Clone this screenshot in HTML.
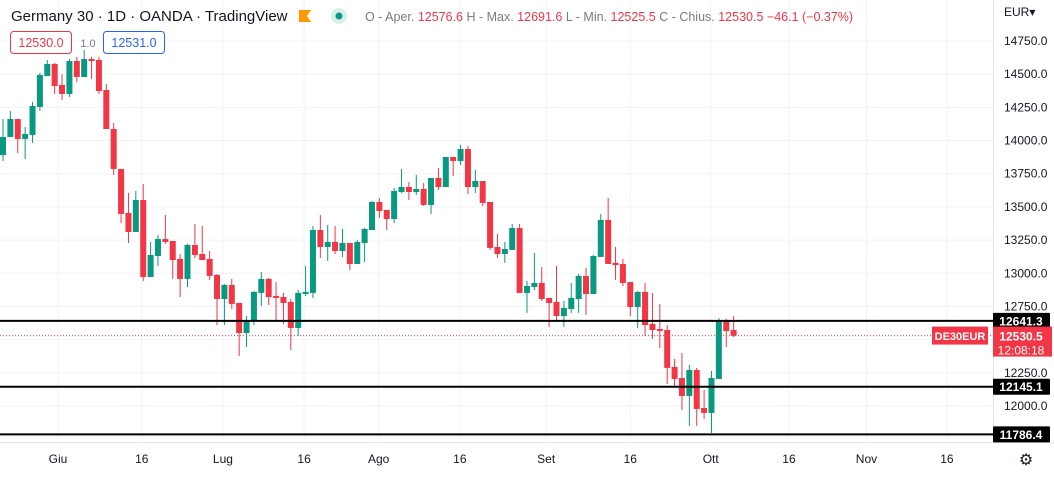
<!DOCTYPE html>
<html><head><meta charset="utf-8"><style>
body{margin:0;background:#fff;font-family:"Liberation Sans",sans-serif;}
#wrap{position:relative;width:1054px;height:495px;overflow:hidden;}
svg text{font-family:"Liberation Sans",sans-serif;}
</style></head><body>
<div id="wrap">
<svg id="chart" width="1054" height="495"></svg>
</div>
<script>
const opens=[13891,14027,14162,14012,14042,14253,14486,14577,14419,14351,14599,14479,14614,14607,14381,14087,13786,13454,13311,13552,12972,13130,13258,13243,13108,12957,13213,13145,13108,12987,12806,12912,12776,12550,12641,12852,12957,12829,12821,12784,12588,12844,12852,13326,13198,13236,13168,13228,13070,13228,13326,13537,13477,13409,13612,13650,13612,13635,13515,13718,13650,13876,13846,13936,13650,13695,13537,13198,13145,13176,13341,12852,12897,12927,12814,12784,12678,12731,12806,12980,12844,13123,13402,13078,13070,12934,12746,12859,12618,12580,12573,12294,12211,12076,12271,11985,11948,12204,12641,12573];
const highs=[14162,14223,14162,14102,14290,14509,14607,14584,14501,14614,14630,14682,14630,14630,14426,14132,13786,13605,13620,13673,13236,13288,13439,13243,13145,13221,13371,13356,13168,12995,12919,12957,12776,12678,12867,13010,12965,12934,12852,12806,12874,13055,13356,13439,13364,13356,13334,13228,13251,13341,13545,13567,13477,13643,13786,13688,13741,13680,13718,13793,13876,13876,13967,13959,13778,13695,13537,13296,13236,13371,13371,12942,13153,13047,12814,13055,12791,12927,12995,13040,13138,13447,13567,13198,13108,12934,12867,12927,12852,12769,12610,12354,12400,12309,12287,12121,12264,12663,12656,12678];
const lows=[13846,14027,13906,13861,13982,14223,14486,14351,14306,14328,14441,14479,14464,14351,14087,13741,13379,13228,13311,12942,12972,13055,13221,12957,12821,12897,13115,13100,12949,12610,12610,12731,12377,12445,12610,12754,12761,12641,12618,12422,12528,12829,12814,13115,13093,13145,13123,13025,13070,13085,13326,13417,13326,13379,13605,13552,13590,13507,13447,13628,13650,13733,13816,13597,13605,13507,13176,13115,13078,13176,12852,12701,12874,12791,12595,12633,12595,12701,12701,12686,12844,13123,13070,12949,12904,12678,12588,12528,12505,12437,12166,12151,11970,11850,11850,11902,11797,12204,12445,12520];
const closes=[14027,14162,14012,14049,14260,14494,14577,14411,14351,14599,14479,14614,14599,14373,14087,13786,13447,13311,13552,12972,13138,13258,13236,13100,12957,13213,13138,13100,12980,12806,12912,12769,12550,12648,12859,12957,12821,12814,12776,12588,12852,12859,13326,13198,13236,13168,13228,13070,13236,13334,13537,13469,13409,13620,13650,13612,13635,13515,13718,13650,13876,13846,13936,13650,13695,13530,13191,13145,13183,13341,12852,12904,12927,12806,12776,12678,12739,12814,12980,12844,13130,13402,13070,13062,12927,12746,12859,12610,12573,12565,12287,12204,12076,12271,11978,11948,12211,12641,12565,12530];
const priceTicks=[12000,12250,12500,12750,13000,13250,13500,13750,14000,14250,14500,14750];
const timeLabels=["Giu","16","Lug","16","Ago","16","Set","16","Ott","16","Nov","16"];
const timeIdx=[7.45,18.8,29.8,40.8,50.9,61.9,73.6,85,95.9,106.5,117,127.9];
const levels=[12641.3,12145.1,11786.4];
const lastPrice=12530.5;

const svg=document.getElementById('chart');
const NS='http://www.w3.org/2000/svg';
const PW=993, PH=442;
function y(p){return 406-(p-12000)*0.13273;}
function x(i){return 3+i*7.38;}
function mk(tag,attrs,parent){const e=document.createElementNS(NS,tag);for(const k in attrs)e.setAttribute(k,attrs[k]);(parent||svg).appendChild(e);return e;}

const grid=mk('g',{});


priceTicks.forEach(p=>{const l=mk('line',{x1:0,x2:PW,y1:y(p),y2:y(p),stroke:'#f0f3fa','stroke-width':1},grid);

});
timeIdx.forEach(i=>{const l=mk('line',{x1:x(i),x2:x(i),y1:0,y2:PH,stroke:'#f0f3fa','stroke-width':1},grid);

});

const ax=mk('line',{x1:0,x2:1054,y1:PH+0.5,y2:PH+0.5,stroke:'#e0e3eb'});


const ay=mk('line',{x1:PW+0.5,x2:PW+0.5,y1:0,y2:PH,stroke:'#e0e3eb'});



const dl=mk('line',{x1:0,x2:PW,y1:y(lastPrice),y2:y(lastPrice),stroke:'#f23645','stroke-width':1,'stroke-dasharray':'1,2'});



const cg=mk('g',{});


for(let i=0;i<opens.length;i++){
  const up=closes[i]>=opens[i];const col=up?'#089981':'#f23645';
  const cx=x(i);
  const w=mk('line',{x1:cx,x2:cx,y1:y(highs[i]),y2:y(lows[i]),stroke:col,'stroke-width':1},cg);
  
  
  const top=y(Math.max(opens[i],closes[i])),bot=y(Math.min(opens[i],closes[i]));
  const b=mk('rect',{x:cx-3,y:top,width:6,height:Math.max(1.5,bot-top),fill:col},cg);
  
  
}

levels.forEach(p=>{
  const l=mk('line',{x1:0,x2:PW,y1:y(p),y2:y(p),stroke:'#000','stroke-width':2});
  
  
});

priceTicks.forEach(p=>{const t=mk('text',{x:1004,y:y(p)+4,'font-size':12,fill:'#131722'});t.textContent=p.toFixed(1);

});
const cur=mk('text',{x:1004,y:16,'font-size':12,fill:'#131722'});cur.textContent='EUR\u25BE';



levels.forEach(p=>{
  const g=mk('g',{});
  
  
  mk('rect',{x:993,y:y(p)-8,width:57,height:16,fill:'#000',rx:1},g);
  const t=mk('text',{x:1021,y:y(p)+4.5,'font-size':12,fill:'#fff','text-anchor':'middle','font-weight':'bold'},g);t.textContent=p.toFixed(1);
});
const lg=mk('g',{});


mk('rect',{x:993,y:y(lastPrice)-9,width:59,height:30,fill:'#f23645'},lg);
const lt1=mk('text',{x:1021,y:y(lastPrice)+5,'font-size':12,fill:'#fff','text-anchor':'middle','font-weight':'bold'},lg);lt1.textContent=lastPrice.toFixed(1);
const lt2=mk('text',{x:1021,y:y(lastPrice)+19,'font-size':12,fill:'#fff','text-anchor':'middle'},lg);lt2.textContent='12:08:18';
const sg=mk('g',{});


mk('rect',{x:932,y:y(lastPrice)-9,width:56,height:18,fill:'#f23645'},sg);
const st=mk('text',{x:960,y:y(lastPrice)+4.5,'font-size':11,fill:'#fff','text-anchor':'middle','font-weight':'bold'},sg);st.textContent='DE30EUR';

timeLabels.forEach((s,k)=>{const t=mk('text',{x:x(timeIdx[k]),y:463,'font-size':12,fill:'#131722','text-anchor':'middle'});t.textContent=s;

});
const gear=mk('text',{x:1026,y:465,'font-size':16,fill:'#131722','text-anchor':'middle'});gear.textContent='\u2699';



const h=mk('text',{x:11,y:21,'font-size':15,fill:'#131722'});h.textContent='Germany 30 · 1D · OANDA · TradingView';


const fl=mk('path',{d:'M299 10 H311 L307 16 L311 22 H299 Z',fill:'#ff9800'});


const dc=mk('circle',{cx:339,cy:16,r:8,fill:'#d7f0ea'});


mk('circle',{cx:339,cy:16,r:3.5,fill:'#089981'});
const o=mk('text',{x:365,y:21,'font-size':12.5,fill:'#787b86'});


o.setAttribute('xml:space','preserve');
o.innerHTML='O - Aper. <tspan fill="#f23645">12576.6</tspan>  H - Max. <tspan fill="#f23645">12691.6</tspan>  L - Min. <tspan fill="#f23645">12525.5</tspan>  C - Chius. <tspan fill="#f23645">12530.5  −46.1 (−0.37%)</tspan>';
const bb=mk('g',{});


mk('rect',{x:10.5,y:31.5,width:61,height:22,rx:3,fill:'#fff',stroke:'#f23645'},bb);
const bt=mk('text',{x:41,y:47,'font-size':12.5,fill:'#f23645','text-anchor':'middle'},bb);bt.textContent='12530.0';
const sp=mk('text',{x:88,y:47,'font-size':11,fill:'#787b86','text-anchor':'middle'});sp.textContent='1.0';


const ab=mk('g',{});


mk('rect',{x:103.5,y:31.5,width:61,height:22,rx:3,fill:'#fff',stroke:'#2962ff'},ab);
const at=mk('text',{x:134,y:47,'font-size':12.5,fill:'#2962ff','text-anchor':'middle'},ab);at.textContent='12531.0';
</script>
</body></html>
